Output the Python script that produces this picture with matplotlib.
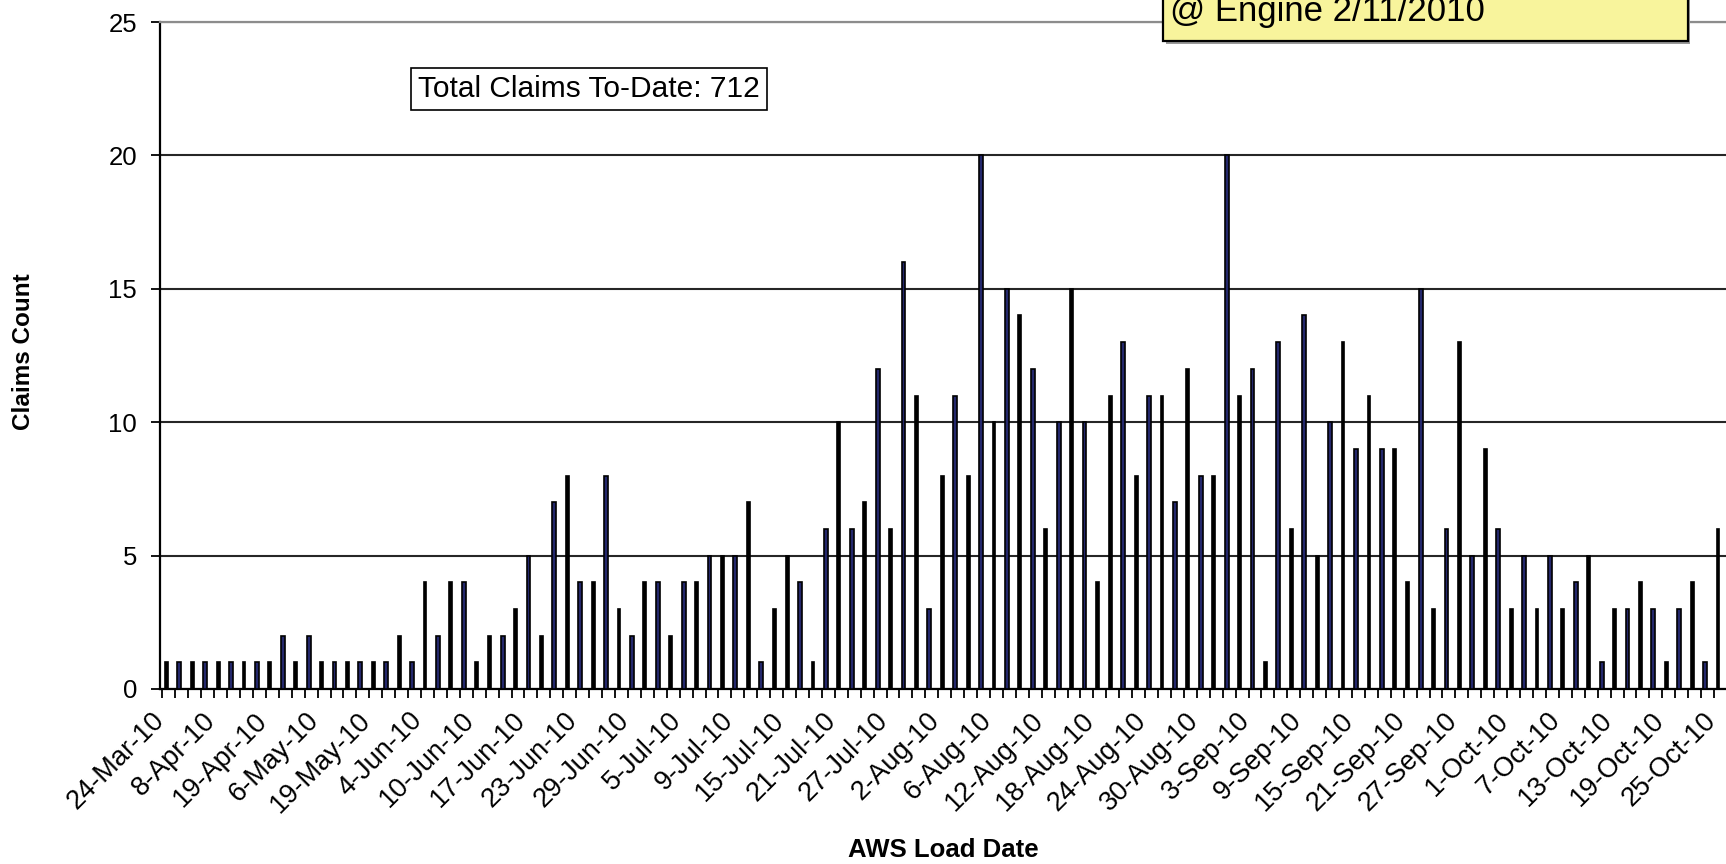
import matplotlib
matplotlib.use('Agg')
import matplotlib.pyplot as plt
import matplotlib.patches as mpatch
from matplotlib.ticker import FixedLocator

# daily claims counts, one per AWS load date (121 load dates)
claims = [1, 1, 1, 1, 1, 1, 1, 1, 1, 2, 1, 2, 1, 1, 1, 1, 1, 1, 2, 1,
          4, 2, 4, 4, 1, 2, 2, 3, 5, 2, 7, 8, 4, 4, 8, 3, 2, 4, 4, 2, 4, 4, 5, 5, 5,
          7, 1, 3, 5, 4, 1, 6, 10, 6, 7, 12, 6, 16, 11, 3, 8, 11, 8, 20, 10, 15, 14,
          12, 6, 10, 15, 10, 4, 11, 13, 8, 11, 11, 7, 12, 8, 8, 20, 11, 12, 1, 13, 6, 14, 5,
          10, 13, 9, 11, 9, 9, 4, 15, 3, 6, 13, 5, 9, 6, 3, 5, 3, 5, 3, 4, 5, 1,
          3, 3, 4, 3, 1, 3, 4, 1, 6]

# every 4th load date is labelled
date_labels = ['24-Mar-10', '8-Apr-10', '19-Apr-10', '6-May-10', '19-May-10',
               '4-Jun-10', '10-Jun-10', '17-Jun-10', '23-Jun-10', '29-Jun-10',
               '5-Jul-10', '9-Jul-10', '15-Jul-10', '21-Jul-10', '27-Jul-10',
               '2-Aug-10', '6-Aug-10', '12-Aug-10', '18-Aug-10', '24-Aug-10',
               '30-Aug-10', '3-Sep-10', '9-Sep-10', '15-Sep-10', '21-Sep-10',
               '27-Sep-10', '1-Oct-10', '7-Oct-10', '13-Oct-10', '19-Oct-10',
               '25-Oct-10']
LABEL_STEP = 4

total_text = 'Total Claims To-Date: 712'
note_text = '@ Engine 2/11/2010'

NAVY = '#24286c'
W, H = 1726, 864

plt.rcParams['font.family'] = ['Liberation Sans', 'DejaVu Sans']


def fx(px):
    return px / W


def fy(py):
    return 1 - py / H


fig = plt.figure(figsize=(W / 100, H / 100), dpi=100)
n = len(claims)
cat_w = 12.95
left, right = 160, 160 + n * cat_w
top, bottom = 22, 689
ax = fig.add_axes([fx(left), fy(bottom), fx(right - left), (bottom - top) / H])

# the thin bars render alternately navy / black in the original
breaks = [25, 48, 73, 96]
for i, v in enumerate(claims):
    shift = sum(i >= b for b in breaks)
    if (i + shift) % 2 == 1:
        ax.bar(i, v, width=0.30, color=NAVY, edgecolor='black', linewidth=1.2, zorder=3)
    else:
        ax.bar(i, v, width=0.22, color='black', edgecolor='black', linewidth=1.2, zorder=3)

off = 0.31
ax.set_xlim(-off, n - off)
ax.set_ylim(0, 25)
ax.set_yticks([0, 5, 10, 15, 20, 25])
ax.yaxis.grid(True, color='#262626', linewidth=1.5, zorder=1)
ax.set_axisbelow(True)

lab_pos = [i - 0.5 for i in range(0, n, LABEL_STEP)]
ax.set_xticks(lab_pos)
ax.set_xticklabels(date_labels)
ax.xaxis.set_minor_locator(FixedLocator([k - off for k in range(n + 1)]))
ax.tick_params(axis='x', which='major', length=0, pad=20, labelsize=19.5)
ax.tick_params(axis='x', which='minor', length=6.5, width=1.3, direction='out')
ax.tick_params(axis='y', length=6.5, width=1.3, pad=10, labelsize=18.5)
for t in ax.get_xticklabels():
    t.set_rotation(45)
    t.set_ha('right')
    t.set_va('center')
    t.set_rotation_mode('anchor')

ax.spines['right'].set_visible(False)
ax.spines['top'].set_color('#8c8c8c')
ax.spines['top'].set_linewidth(1.6)
ax.spines['left'].set_linewidth(1.6)
ax.spines['bottom'].set_linewidth(1.6)

# total box
fig.text(fx(589), fy(89), total_text, fontsize=21.5, ha='center', va='center',
         bbox=dict(boxstyle='square,pad=0.24', fc='white', ec='black', lw=1.2))

# yellow note box, cut off at the top of the picture
shadow = mpatch.Rectangle((fx(1166), fy(44)), fx(1690 - 1166), fy(-60) - fy(44),
                          transform=fig.transFigure, fc='#9a9a9a', ec='none', zorder=4)
note = mpatch.Rectangle((fx(1163), fy(41)), fx(1688 - 1163), fy(-60) - fy(41),
                        transform=fig.transFigure, fc='#f8f49c', ec='black', lw=1.6, zorder=5)
fig.patches.extend([shadow, note])
fig.text(fx(1170), fy(21), note_text, fontsize=25, ha='left', va='baseline', zorder=6)

fig.text(fx(24), fy(352), 'Claims Count', rotation=90, fontsize=17.5,
         fontweight='bold', ha='center', va='center')
fig.text(fx((left + right) / 2), fy(850), 'AWS Load Date', fontsize=18.5,
         fontweight='bold', ha='center', va='center')

fig.savefig('out.png', dpi=100)
